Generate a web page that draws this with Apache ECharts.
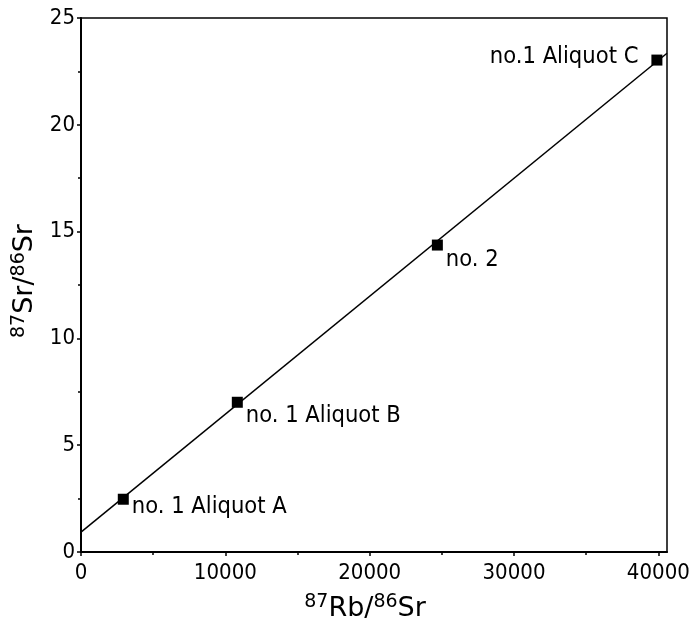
<!DOCTYPE html>
<html><head><meta charset="utf-8">
<script src="https://cdn.jsdelivr.net/npm/echarts@6/dist/echarts.min.js"></script>
<style>html,body{margin:0;padding:0;background:#fff}#c{width:692px;height:619px}</style>
</head><body><div id="c"></div>
<script>
const sampleNames = ['no. 1 Aliquot A', 'no. 1 Aliquot B', 'no. 2', 'no.1 Aliquot C'];
const rbSr = [2930, 10830, 24690, 39900];
const srSr = [2.47, 7.01, 14.37, 23.03];
const isochronX = [0, 40600];
const isochronY = [0.93, 23.35];
const xTicks = [0, 10000, 20000, 30000, 40000];
const yTicks = [0, 5, 10, 15, 20, 25];

const FONT = 'DejaVu Sans Condensed';
const TITLE_FONT = 'DejaVu Sans';
const labelPlacement = [
  {position: 'right', offset: [0, 8]},
  {position: 'right', offset: [0, 14]},
  {position: 'right', offset: [0, 15]},
  {position: 'left', offset: [-10, -3]}
];
const chart = echarts.init(document.getElementById('c'), null, {renderer: 'canvas'});
const supStyle = {fontSize: 19, fontFamily: TITLE_FONT, color: '#000', padding: [0, 0, 12, 0]};
const baseStyle = {fontSize: 27, fontFamily: TITLE_FONT, color: '#000'};
chart.setOption({
  animation: false,
  backgroundColor: '#fff',
  grid: {left: 81, top: 18, right: 25, bottom: 67, containLabel: false, outerBoundsMode: 'none',
    show: true, borderColor: '#000', borderWidth: 1.5, backgroundColor: 'transparent'},
  xAxis: {
    type: 'value', min: 0, max: 40600, interval: 10000,
    axisLine: {show: true, onZero: false, lineStyle: {color: '#000', width: 2}},
    axisTick: {show: true, length: 4, lineStyle: {color: '#000', width: 1.5}, customValues: xTicks},
    minorTick: {show: true, splitNumber: 2, length: 3, lineStyle: {color: '#000', width: 1.5}},
    splitLine: {show: false},
    axisLabel: {fontSize: 22, fontFamily: FONT, color: '#000', margin: 10, customValues: xTicks,
      formatter: v => String(v)},
    name: '{sup|87}{b|Rb/}{sup|86}{b|Sr}', nameLocation: 'middle', nameGap: 41,
    nameTextStyle: {padding: [0, 18, 0, 0], rich: {sup: supStyle, b: baseStyle}}
  },
  yAxis: {
    type: 'value', min: 0, max: 25, interval: 5,
    axisLine: {show: true, onZero: false, lineStyle: {color: '#000', width: 2}},
    axisTick: {show: true, length: 4, lineStyle: {color: '#000', width: 1.5}, customValues: yTicks},
    minorTick: {show: true, splitNumber: 2, length: 3, lineStyle: {color: '#000', width: 1.5}},
    splitLine: {show: false},
    axisLabel: {fontSize: 22, fontFamily: FONT, color: '#000', margin: 6, customValues: yTicks},
    name: '{sup|87}{b|Sr/}{sup|86}{b|Sr}', nameLocation: 'middle', nameGap: 26, nameRotate: 90,
    nameTextStyle: {padding: [0, 0, 0, 8], rich: {sup: supStyle, b: baseStyle}}
  },
  series: [
    {
      type: 'line', data: isochronX.map((x, i) => [x, isochronY[i]]),
      showSymbol: false, symbol: 'none', lineStyle: {color: '#000', width: 1.5}, z: 2, silent: true
    },
    {
      type: 'scatter', symbol: 'rect', symbolSize: 11, z: 3,
      itemStyle: {color: '#000', opacity: 1},
      data: rbSr.map((x, i) => ({
        value: [x, srSr[i]], name: sampleNames[i],
        label: {show: true, formatter: '{b}', fontSize: 23.5, fontFamily: FONT, color: '#000', opacity: 1, distance: 3,
          position: labelPlacement[i].position, offset: labelPlacement[i].offset}
      }))
    }
  ]
});
</script></body></html>
